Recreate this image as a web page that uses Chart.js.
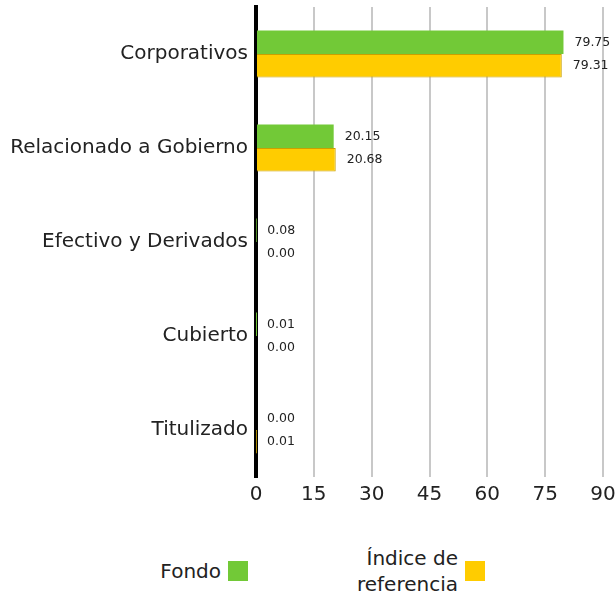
<!DOCTYPE html>
<html>
<head>
<meta charset="utf-8">
<script src="https://cdn.jsdelivr.net/npm/chart.js@4"></script>
<style>
  body { margin: 0; background: #fff; font-family: "DejaVu Sans", sans-serif; }
  #wrap { position: relative; width: 616px; height: 515px; }
  .legend { position: absolute; font-size: 20px; color: #222; display: flex; align-items: center; }
  .legend span.box { display: inline-block; width: 20px; height: 20px; margin-left: 7px; }
</style>
</head>
<body>
<div id="wrap"><canvas id="chart1"></canvas></div>
<div class="legend" style="right:368px; top:559px;"><span>Fondo</span><span class="box" style="background:#72c937"></span></div>
<div class="legend" style="right:131px; top:545px;"><span style="text-align:right; line-height:26px;">Índice de<br>referencia</span><span class="box" style="background:#ffcc00"></span></div>
<script>
const categorias = ['Corporativos', 'Relacionado a Gobierno', 'Efectivo y Derivados', 'Cubierto', 'Titulizado'];
const fondo = [79.75, 20.15, 0.08, 0.01, 0.00];
const indice = [79.31, 20.68, 0.00, 0.00, 0.01];
const ticksX = [0, 15, 30, 45, 60, 75, 90];

const fuente = '"DejaVu Sans", sans-serif';

const etiquetas = {
  id: 'etiquetas',
  afterDatasetsDraw(chart) {
    const ctx = chart.ctx;
    ctx.save();
    ctx.font = '12.5px ' + fuente;
    ctx.fillStyle = '#222';
    ctx.textBaseline = 'middle';
    chart.data.datasets.forEach((ds, i) => {
      chart.getDatasetMeta(i).data.forEach((bar, j) => {
        ctx.fillText(ds.data[j].toFixed(2), bar.x + 11, bar.y);
      });
    });
    ctx.restore();
  }
};

const ctx1 = document.getElementById('chart1').getContext('2d');
new Chart(ctx1, {
  type: 'bar',
  data: {
    labels: categorias,
    datasets: [
      { label: 'Fondo', data: fondo, backgroundColor: '#72c937', borderWidth: 0 },
      { label: 'Índice de referencia', data: indice, backgroundColor: '#ffcc00', borderColor: '#c9a000', borderWidth: 1 }
    ]
  },
  options: {
    indexAxis: 'y',
    responsive: true,
    maintainAspectRatio: false,
    animation: false,
    layout: { padding: { top: 7, right: 0, left: 0, bottom: 2 } },
    categoryPercentage: 0.5,
    barPercentage: 1.0,
    plugins: { legend: { display: false }, tooltip: { enabled: false } },
    scales: {
      x: {
        min: 0, max: 90,
        afterBuildTicks: (s) => { s.ticks = ticksX.map(v => ({ value: v })); },
        afterFit: (s) => { s.paddingRight = 13; },
        grid: { color: '#c8c8c8', lineWidth: 2, drawTicks: false },
        border: { display: false },
        ticks: { color: '#222', font: { size: 20, family: fuente }, padding: 6 }
      },
      y: {
        afterFit: (s) => { s.width = 256; s.paddingTop = 0; s.paddingBottom = 0; },
        grid: { display: false },
        border: { display: true, color: '#000', width: 4 },
        ticks: { color: '#222', font: { size: 20, family: fuente }, padding: 0 }
      }
    }
  },
  plugins: [etiquetas]
});
</script>
</body>
</html>
